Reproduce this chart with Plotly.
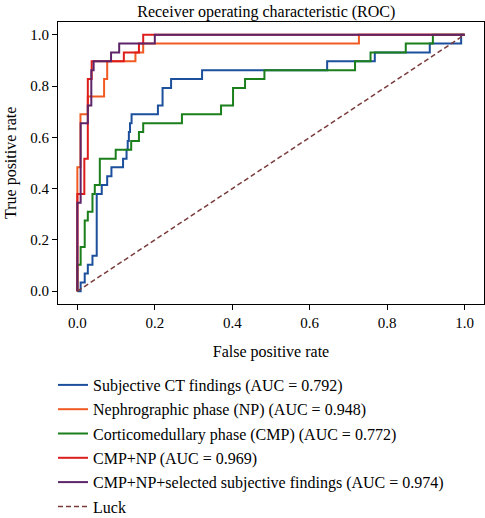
import plotly.graph_objects as go

# ROC curve corner points (false positive rate, true positive rate)
ct_fpr = [0, 0.0085, 0.019, 0.027, 0.039, 0.05, 0.063, 0.077, 0.088, 0.118, 0.127, 0.13, 0.133,
          0.136, 0.14, 0.208, 0.22, 0.242, 0.322, 0.645, 0.768, 0.91, 0.991, 1.0]
ct_tpr = [0, 0.034, 0.069, 0.103, 0.138, 0.379, 0.414, 0.448, 0.483, 0.517, 0.552, 0.586, 0.621,
          0.655, 0.69, 0.724, 0.793, 0.828, 0.862, 0.897, 0.931, 0.966, 1.0, 1.0]

np_fpr = [0, 0, 0.008, 0.027, 0.069, 0.077, 0.15, 0.17, 0.727, 1.0]
np_tpr = [0, 0.483, 0.69, 0.759, 0.828, 0.897, 0.931, 0.966, 1.0, 1.0]

cmp_fpr = [0, 0, 0.0085, 0.019, 0.027, 0.039, 0.045, 0.058, 0.099, 0.139, 0.159, 0.17, 0.27,
           0.371, 0.402, 0.433, 0.483, 0.717, 0.757, 0.848, 0.918, 1.0]
cmp_tpr = [0, 0.103, 0.172, 0.276, 0.31, 0.379, 0.414, 0.517, 0.552, 0.586, 0.621, 0.655, 0.69,
           0.724, 0.793, 0.828, 0.862, 0.897, 0.931, 0.966, 1.0, 1.0]

cmpnp_fpr = [0, 0, 0.018, 0.027, 0.037, 0.12, 0.159, 0.17, 1.0]
cmpnp_tpr = [0, 0.379, 0.517, 0.828, 0.897, 0.931, 0.966, 1.0, 1.0]

all_fpr = [0, 0, 0.0085, 0.027, 0.036, 0.042, 0.087, 0.108, 0.2, 1.0]
all_tpr = [0, 0.345, 0.655, 0.724, 0.862, 0.897, 0.931, 0.966, 1.0, 1.0]

luck_x = [0, 1]
luck_y = [0, 1]

tick_vals = [0, 0.2, 0.4, 0.6, 0.8, 1.0]

names = [
    "Subjective CT findings (AUC = 0.792)",
    "Nephrographic phase (NP) (AUC = 0.948)",
    "Corticomedullary phase (CMP) (AUC = 0.772)",
    "CMP+NP (AUC = 0.969)",
    "CMP+NP+selected subjective findings (AUC = 0.974)",
    "Luck",
]
colors = ["#1c4f9c", "#f15a22", "#1b7f1b", "#dd1c1c", "#5d2568", "#7a3b3b"]

series = [(ct_fpr, ct_tpr), (np_fpr, np_tpr), (cmp_fpr, cmp_tpr),
          (cmpnp_fpr, cmpnp_tpr), (all_fpr, all_tpr)]

FONT = "Liberation Serif"

fig = go.Figure()
for i, (x, y) in enumerate(series):
    fig.add_trace(go.Scatter(x=x, y=y, mode="lines", name=names[i], legendgroup=str(i),
                             line=dict(color=colors[i], width=2, shape="hv")))
fig.add_trace(go.Scatter(x=luck_x, y=luck_y, mode="lines", name=names[5], legendgroup="5",
                         line=dict(color=colors[5], width=1.5, dash="5px,3px")))


def axis(title):
    d = dict(range=[-0.05, 1.05], tickvals=tick_vals, tickformat=".1f", automargin=False,
             showgrid=False, zeroline=False, showline=True, mirror=True, linecolor="black",
             linewidth=1, ticks="outside", ticklen=5, tickcolor="black",
             tickfont=dict(family=FONT, size=15, color="black"))
    if title:
        d["title"] = dict(text=title, font=dict(family=FONT, size=16, color="black"))
    return d


fig.update_layout(
    width=485, height=518,
    margin=dict(l=58, r=1, t=22, b=214, autoexpand=False),
    plot_bgcolor="white", paper_bgcolor="white",
    title=dict(text="Receiver operating characteristic (ROC)", x=0.549, xanchor="center",
               y=1 - 11 / 518, yanchor="middle", yref="container",
               font=dict(family=FONT, size=16, color="black")),
    xaxis=axis("False positive rate"),
    yaxis=axis(None),
    showlegend=True,
    legend=dict(x=53 / 485, xanchor="left", xref="container",
                y=1 - 368 / 518, yanchor="top", yref="container", orientation="v",
                font=dict(family=FONT, size=16, color="black"), tracegroupgap=0.5,
                bgcolor="rgba(0,0,0,0)"),
    annotations=[dict(text="True positive rate", xref="paper", yref="paper",
                      x=(11 - 58) / 426, y=0.5, xanchor="center", yanchor="middle",
                      textangle=-90, showarrow=False,
                      font=dict(family=FONT, size=16, color="black"))],
)

fig.write_html("out.html", config={"displayModeBar": False},
               post_script="document.body.style.margin='0px';")
